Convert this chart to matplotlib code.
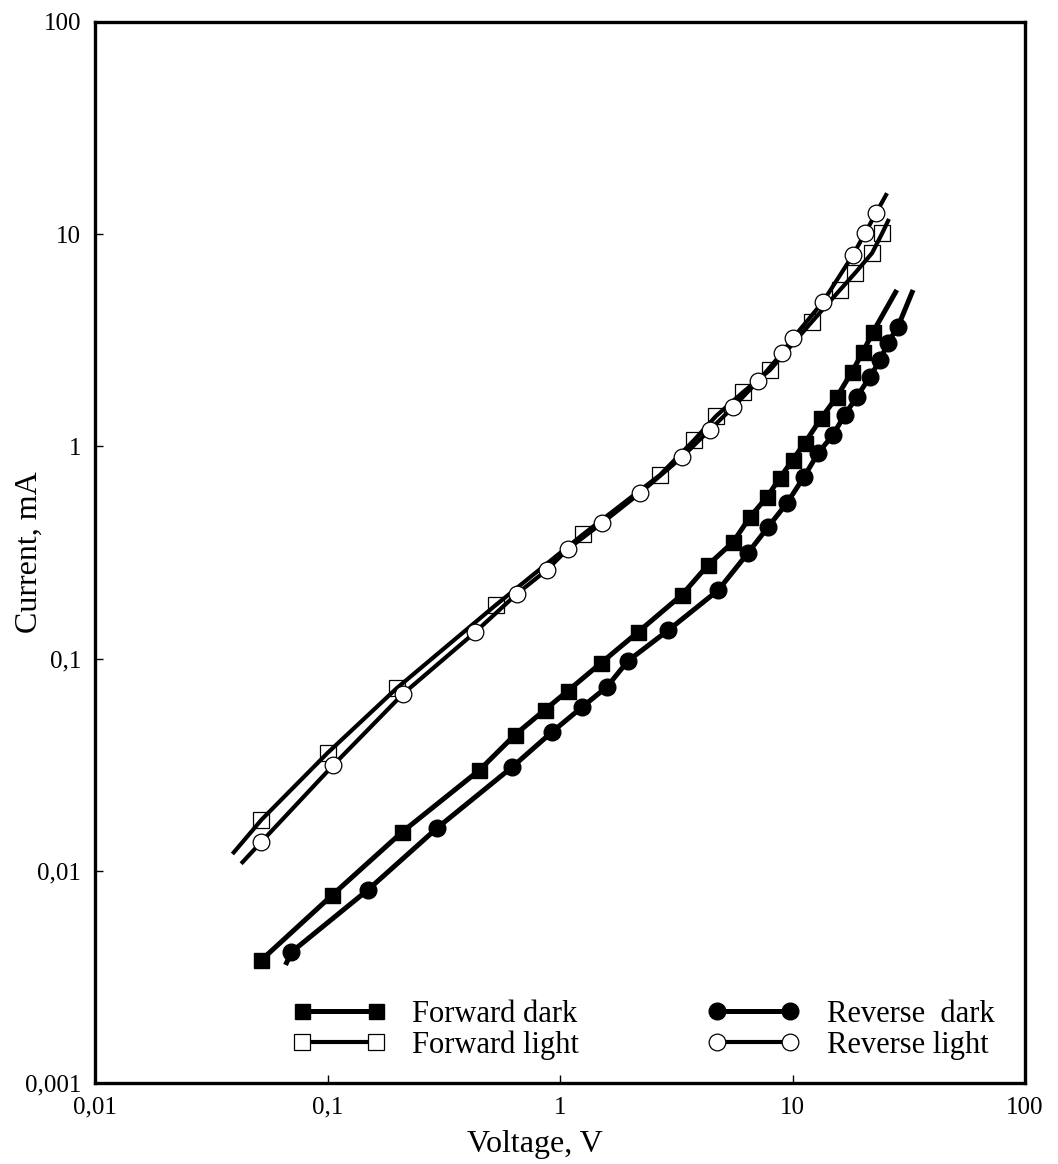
import matplotlib
matplotlib.use("Agg")
import matplotlib.pyplot as plt
from matplotlib.lines import Line2D
from matplotlib.ticker import FixedLocator, FixedFormatter, NullLocator

# ---- data ----
fd_v = [0.052, 0.105, 0.209, 0.45, 0.64, 0.86, 1.08, 1.50, 2.16, 3.35, 4.33, 5.55,
        6.56, 7.77, 8.83, 10.0, 11.3, 13.3, 15.5, 18.0, 20.1, 22.2]
fd_i = [0.0038, 0.0077, 0.0152, 0.0298, 0.0437, 0.0573, 0.0704, 0.0953, 0.133, 0.200,
        0.276, 0.354, 0.464, 0.578, 0.710, 0.863, 1.04, 1.36, 1.71, 2.24, 2.79, 3.46]
fd_line_v = [0.052, 28.1]
fd_line_i = [0.0038, 5.46]

rd_v = [0.070, 0.149, 0.296, 0.622, 0.924, 1.245, 1.59, 1.96, 2.92, 4.79, 6.44, 7.85,
        9.47, 11.2, 12.9, 14.9, 16.8, 18.9, 21.5, 23.8, 25.7, 28.4]
rd_i = [0.00414, 0.00812, 0.0159, 0.0308, 0.0451, 0.0591, 0.0735, 0.0975, 0.136, 0.210,
        0.315, 0.417, 0.541, 0.718, 0.931, 1.13, 1.41, 1.71, 2.12, 2.55, 3.07, 3.66]
rd_line_v = [0.066, 33.0]
rd_line_i = [0.0036, 5.46]

fl_v = [0.052, 0.100, 0.199, 0.53, 1.26, 2.69, 3.77, 4.69, 6.12, 8.0, 12.1, 16.0,
        18.6, 22.0, 24.3]
fl_i = [0.0174, 0.0359, 0.0727, 0.179, 0.386, 0.733, 1.07, 1.39, 1.80, 2.29, 3.86,
        5.46, 6.57, 8.15, 10.1]
fl_line_v = [0.039, 26.0]
fl_line_i = [0.0120, 11.8]

rl_v = [0.052, 0.106, 0.211, 0.431, 0.653, 0.879, 1.08, 1.52, 2.21, 3.35, 4.42, 5.55,
        7.11, 9.01, 10.05, 13.5, 18.2, 20.5, 22.9]
rl_i = [0.0137, 0.0315, 0.0681, 0.133, 0.202, 0.262, 0.328, 0.436, 0.603, 0.891, 1.20,
        1.53, 2.03, 2.75, 3.24, 4.79, 7.98, 10.1, 12.6]
rl_line_v = [0.0425, 25.5]
rl_line_i = [0.0108, 15.6]

x_ticks = [0.01, 0.1, 1, 10, 100]
x_tick_labels = ["0,01", "0,1", "1", "10", "100"]
y_ticks = [0.001, 0.01, 0.1, 1, 10, 100]
y_tick_labels = ["0,001", "0,01", "0,1", "1", "10", "100"]

labels = ["Forward dark", "Forward light", "Reverse  dark", "Reverse light"]

# ---- figure ----
plt.rcParams["font.family"] = ["Liberation Serif", "DejaVu Serif"]
W, H = 1058, 1164
fig = plt.figure(figsize=(W / 100, H / 100), dpi=100)
ax = fig.add_axes([95 / W, 1 - 1083 / H, (1025 - 95) / W, (1083 - 22) / H])
ax.set_xscale("log")
ax.set_yscale("log")
ax.set_xlim(0.01, 100)
ax.set_ylim(0.001, 100)

def path(v, i, lv, li):
    return [lv[0]] + list(v) + [lv[1]], [li[0]] + list(i) + [li[1]]

k = "black"
# lines
vx, iy = path(fd_v, fd_i, fd_line_v, fd_line_i)
ax.plot(vx, iy, color=k, lw=3.6, zorder=2, solid_capstyle="butt")
vx, iy = path(rd_v, rd_i, rd_line_v, rd_line_i)
ax.plot(vx, iy, color=k, lw=3.6, zorder=2, solid_capstyle="butt")
vx, iy = path(fl_v, fl_i, fl_line_v, fl_line_i)
ax.plot(vx, iy, color=k, lw=3.0, zorder=2, solid_capstyle="butt")
vx, iy = path(rl_v, rl_i, rl_line_v, rl_line_i)
ax.plot(vx, iy, color=k, lw=3.0, zorder=2, solid_capstyle="butt")

# markers
ax.plot(fd_v, fd_i, ls="none", marker="s", ms=10.8, mfc=k, mec=k, zorder=4)
ax.plot(rd_v, rd_i, ls="none", marker="o", ms=12, mfc=k, mec=k, zorder=4)
ax.plot(fl_v, fl_i, ls="none", marker="s", ms=11.5, mfc="none", mec=k, mew=0.9, zorder=3)
ax.plot(rl_v, rl_i, ls="none", marker="o", ms=12, mfc="white", mec=k, mew=0.9, zorder=5)

# axes styling
for s in ax.spines.values():
    s.set_linewidth(2.4)
ax.xaxis.set_major_locator(FixedLocator(x_ticks))
ax.xaxis.set_major_formatter(FixedFormatter(x_tick_labels))
ax.yaxis.set_major_locator(FixedLocator(y_ticks))
ax.yaxis.set_major_formatter(FixedFormatter(y_tick_labels))
ax.xaxis.set_minor_locator(NullLocator())
ax.yaxis.set_minor_locator(NullLocator())
ax.tick_params(axis="both", which="major", direction="in", length=6, width=1,
               labelsize=18, pad=10)
ax.set_xlabel("Voltage, V", fontsize=23)
ax.xaxis.set_label_coords(0.473, -0.058)
ax.xaxis.label.set_va("center")
ax.set_ylabel("Current, mA", fontsize=23)
ax.yaxis.set_label_coords(-0.071, 0.5)
ax.yaxis.label.set_va("center")

# legend
h_fd = Line2D([], [], color=k, lw=3.6, marker="s", ms=10.8, mfc=k, mec=k)
h_fl = Line2D([], [], color=k, lw=3.0, marker="s", ms=11.5, mfc="white", mec=k, mew=0.9)
h_rd = Line2D([], [], color=k, lw=3.6, marker="o", ms=12, mfc=k, mec=k)
h_rl = Line2D([], [], color=k, lw=3.0, marker="o", ms=12, mfc="white", mec=k, mew=0.9)
ax.legend([h_fd, h_fl, h_rd, h_rl], labels, ncol=2, numpoints=2, frameon=False,
          fontsize=22, handlelength=3.0, handletextpad=0.9, columnspacing=4.2,
          labelspacing=0.05, loc="lower left", bbox_to_anchor=(0.2, 0.01),
          borderaxespad=0)

fig.savefig("out.png", dpi=100)
